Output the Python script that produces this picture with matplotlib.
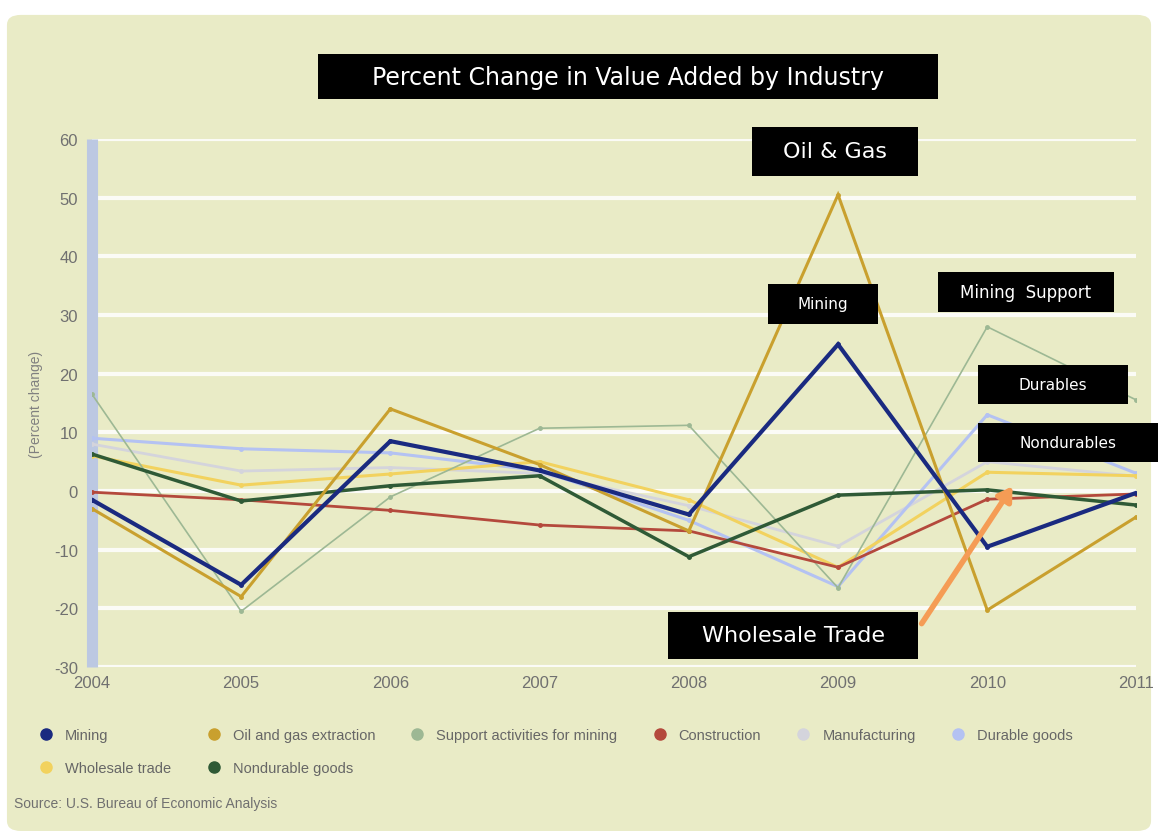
import matplotlib.pyplot as plt
from matplotlib.patches import FancyBboxPatch
from matplotlib.lines import Line2D
import numpy as np

plt.rcParams["axes.unicode_minus"] = False

# data
years = [2004, 2005, 2006, 2007, 2008, 2009, 2010, 2011]
mining = [-1.5, -16, 8.5, 3.5, -4, 25, -9.5, -0.3]
oil_gas = [-3, -18, 14, 4.5, -6.8, 50.5, -20.3, -4.4]
support = [16.5, -20.5, -1, 10.7, 11.2, -16.5, 28, 15.5]
construction = [-0.2, -1.5, -3.3, -5.8, -6.8, -13, -1.4, -0.5]
manufacturing = [8, 3.4, 4, 3, -2.5, -9.4, 5, 2.5]
durable = [9, 7.2, 6.5, 3.5, -5, -16.3, 13, 3]
wholesale = [6, 1, 2.9, 5, -1.5, -13, 3.2, 2.6]
nondurable = [6.3, -1.7, 0.9, 2.6, -11.2, -0.7, 0.2, -2.4]

series = [
    ("Mining", mining, "#1A2A80", 3.0),
    ("Oil and gas extraction", oil_gas, "#C9A02E", 2.2),
    ("Support activities for mining", support, "#9DB894", 1.2),
    ("Construction", construction, "#B4493C", 2.0),
    ("Manufacturing", manufacturing, "#D4D4DC", 2.0),
    ("Durable goods", durable, "#B4C2F2", 2.2),
    ("Wholesale trade", wholesale, "#F2D25E", 2.2),
    ("Nondurable goods", nondurable, "#2F5A36", 2.5),
]
draw_order = [4, 5, 6, 2, 3, 7, 1, 0]
sans = ["Liberation Sans", "DejaVu Sans"]

bg = "#E9EBC6"
fig = plt.figure(figsize=(11.58, 8.37), dpi=100, facecolor="white")
fig.patches.append(FancyBboxPatch((0.006, 0.006), 0.988, 0.975,
                                  boxstyle="round,pad=0,rounding_size=0.012",
                                  transform=fig.transFigure, facecolor=bg,
                                  edgecolor="none", zorder=-5))

ax = fig.add_axes([0.0794, 0.2019, 0.902, 0.6308])
ax.set_facecolor(bg)
ax.set_xlim(2004, 2011)
ax.set_ylim(-30, 60)
ax.set_yticks(np.arange(-30, 61, 10))
ax.set_xticks(years)
ax.grid(axis="y", color="white", linewidth=3, alpha=0.85)
ax.set_axisbelow(True)
for s in ["top", "right", "bottom"]:
    ax.spines[s].set_visible(False)
ax.spines["left"].set_color("#BCC8E2")
ax.spines["left"].set_linewidth(8)
ax.spines["left"].set_capstyle("butt")
ax.tick_params(axis="both", length=0, labelsize=12, labelcolor="#707070", pad=10)
ax.tick_params(axis="x", pad=6)
for t in ax.get_xticklabels() + ax.get_yticklabels():
    t.set_family(sans)
ax.set_ylabel("(Percent change)", fontsize=10, color="#808080", labelpad=8, family=sans)

for i in draw_order:
    name, vals, col, lw = series[i]
    ax.plot(years, vals, color=col, linewidth=lw, marker="o", markersize=2.5,
            solid_joinstyle="miter", zorder=3)


def label_box(x0, y0, x1, y1, text, size):
    # box given in pixel positions of the 1158x837 picture
    W, H = 1158, 837
    fig.patches.append(FancyBboxPatch((x0 / W, 1 - y1 / H), (x1 - x0) / W, (y1 - y0) / H,
                                      boxstyle="square,pad=0", transform=fig.transFigure,
                                      facecolor="black", edgecolor="none", zorder=5))
    fig.text((x0 + x1) / 2 / W, 1 - (y0 + y1) / 2 / H, text, color="white",
             fontsize=size, ha="center", va="center", zorder=6)


# orange arrow pointing at wholesale trade
ax.annotate("", xy=(2010.18, 1.2), xytext=(2009.55, -23),
            arrowprops=dict(arrowstyle="-|>,head_width=0.5,head_length=0.8",
                            color="#F59C55", lw=4), zorder=4)

label_box(318, 55, 938, 100, "Percent Change in Value Added by Industry", 17)
label_box(752, 128, 918, 177, "Oil & Gas", 16)
label_box(768, 285, 878, 325, "Mining", 11)
label_box(938, 273, 1114, 313, "Mining  Support", 12)
label_box(978, 366, 1128, 405, "Durables", 11)
label_box(978, 424, 1158, 463, "Nondurables", 11)
label_box(668, 613, 918, 660, "Wholesale Trade", 16)

# legend, ordered so that columns fill into the two rows of the reference
order = [0, 6, 1, 7, 2, 3, 4, 5]
handles = [Line2D([], [], linestyle="none", marker="o", markersize=8,
                  markerfacecolor=series[i][2], markeredgecolor=series[i][2]) for i in order]
labels = [series[i][0] for i in order]
leg = fig.legend(handles, labels, loc="upper left", bbox_to_anchor=(0.016, 0.145),
                 ncol=6, frameon=False, prop={"family": sans, "size": 10.5},
                 handletextpad=0.3, columnspacing=1.9, labelcolor="#666666",
                 labelspacing=1.3)

fig.text(0.012, 0.035, "Source: U.S. Bureau of Economic Analysis", fontsize=10,
         color="#707070", family=sans)

fig.savefig("out.png", dpi=100, facecolor="white")
